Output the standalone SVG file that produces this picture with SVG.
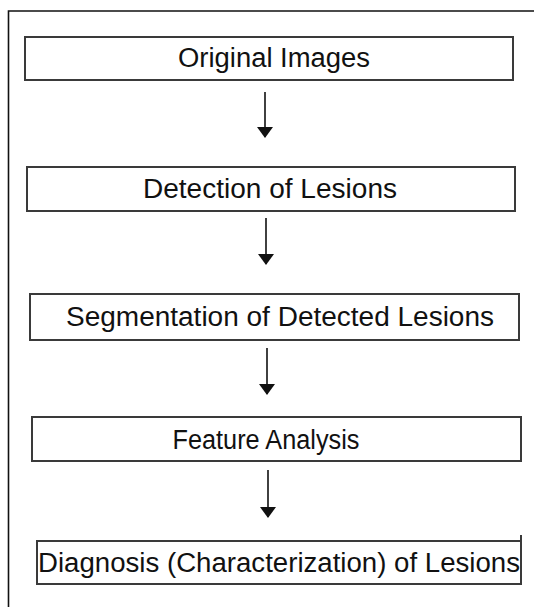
<svg xmlns="http://www.w3.org/2000/svg" width="534" height="607" viewBox="0 0 534 607">
  <style>
    .box { fill: #ffffff; stroke: #3a3a3a; stroke-width: 2; }
    .frame { fill: none; stroke: #111111; stroke-width: 1.6; }
    .label { font-family: "Liberation Sans", Arial, sans-serif; font-size: 27px; fill: #111111; text-anchor: middle; }
    .shaft { stroke: #111111; stroke-width: 1.6; fill: none; }
    .tip { fill: #111111; }
  </style>
  <rect width="534" height="607" fill="#ffffff"/>

  <!-- outer frame: top and left edges only -->
  <path class="frame" d="M8.5,607 L8.5,11 L534,11"/>

  <g id="node-original">
    <rect class="box" x="25" y="37" width="488" height="43"/>
    <text class="label" x="274" y="67" textLength="192" lengthAdjust="spacingAndGlyphs">Original Images</text>
  </g>
  <g id="node-detection">
    <rect class="box" x="27" y="167" width="488" height="44"/>
    <text class="label" x="270" y="198" textLength="254" lengthAdjust="spacingAndGlyphs">Detection of Lesions</text>
  </g>
  <g id="node-segmentation">
    <rect class="box" x="30" y="294" width="489" height="46"/>
    <text class="label" x="280" y="326" textLength="428" lengthAdjust="spacingAndGlyphs">Segmentation of Detected Lesions</text>
  </g>
  <g id="node-feature">
    <rect class="box" x="32" y="417" width="489" height="44"/>
    <text class="label" x="266" y="449" textLength="187" lengthAdjust="spacingAndGlyphs">Feature Analysis</text>
  </g>
  <g id="node-diagnosis">
    <rect class="box" x="37" y="541" width="484" height="43"/>
    <path d="M521,535 L521,541" stroke="#3a3a3a" stroke-width="2"/>
    <text class="label" x="279" y="572" textLength="482" lengthAdjust="spacingAndGlyphs">Diagnosis (Characterization) of Lesions</text>
  </g>

  <g id="connectors">
    <path class="shaft" d="M265,92 L265,137"/>
    <path class="tip" d="M257,127 L273,127 L265,138 Z"/>
    <path class="shaft" d="M266,218 L266,264"/>
    <path class="tip" d="M258,254 L274,254 L266,265 Z"/>
    <path class="shaft" d="M267,348 L267,394"/>
    <path class="tip" d="M259,384 L275,384 L267,395 Z"/>
    <path class="shaft" d="M268,470 L268,517"/>
    <path class="tip" d="M260,507 L276,507 L268,518 Z"/>
  </g>
</svg>
